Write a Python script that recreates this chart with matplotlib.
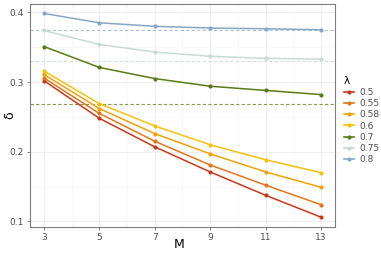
import matplotlib.pyplot as plt
from matplotlib.lines import Line2D

# Data
M = [3, 5, 7, 9, 11, 13]
lambdas = ["0.5", "0.55", "0.58", "0.6", "0.7", "0.75", "0.8"]
delta = {
    "0.5":  [0.302, 0.248, 0.207, 0.171, 0.1375, 0.106],
    "0.55": [0.306, 0.255, 0.215, 0.181, 0.152, 0.124],
    "0.58": [0.311, 0.262, 0.226, 0.197, 0.171, 0.149],
    "0.6":  [0.316, 0.269, 0.237, 0.210, 0.1885, 0.170],
    "0.7":  [0.351, 0.321, 0.305, 0.294, 0.288, 0.282],
    "0.75": [0.374, 0.354, 0.343, 0.337, 0.334, 0.333],
    "0.8":  [0.3985, 0.385, 0.380, 0.3775, 0.3765, 0.375],
}
# horizontal reference levels
hlines = {"0.7": 0.269, "0.75": 0.330, "0.8": 0.3745}

colors = {
    "0.5": "#C8381B",
    "0.55": "#E2761C",
    "0.58": "#F0A10C",
    "0.6": "#F4C20D",
    "0.7": "#5B7B18",
    "0.75": "#C9DBD4",
    "0.8": "#88A7C3",
}
hcolors = {"0.7": "#8A9A4A", "0.75": "#D4E0DC", "0.8": "#A9C2D8"}

fig = plt.figure(figsize=(3.81, 2.54), dpi=100)
ax = fig.add_axes([30 / 381, 1 - 227 / 254, 305 / 381, 223 / 254])

for lam, y in hlines.items():
    ax.axhline(y, color=hcolors[lam], linestyle=(0, (3, 2)), linewidth=0.8, zorder=1)

for lam in lambdas:
    ax.plot(M, delta[lam], color=colors[lam], linewidth=1.1, marker="o",
            markersize=2, zorder=3)

ax.set_xlim(2.5, 13.5)
ax.set_ylim(0.092, 0.412)
ax.set_xticks(M)
ax.set_yticks([0.1, 0.2, 0.3, 0.4])
ax.set_xticks([4, 6, 8, 10, 12], minor=True)
ax.set_yticks([0.15, 0.25, 0.35], minor=True)
ax.grid(True, which="major", color="#EBEBEB", linewidth=0.6)
ax.grid(True, which="minor", color="#F4F4F4", linewidth=0.4)
ax.set_axisbelow(True)
ax.tick_params(which="major", labelsize=6.5, labelcolor="#4D4D4D", color="#4D4D4D",
               length=2.5, width=0.5, pad=2)
ax.tick_params(which="minor", length=0)
for s in ax.spines.values():
    s.set_color("#7F7F7F")
    s.set_linewidth(0.8)

ax.set_xlabel("M", fontsize=9, va="center")
ax.set_ylabel("δ", fontsize=9, va="center")
ax.xaxis.set_label_coords(0.49, -17 / 223)
ax.yaxis.set_label_coords(-20 / 305, 0.5)

handles = [Line2D([0], [0], color=colors[l], marker="o", markersize=2, linewidth=1.2)
           for l in lambdas]
leg = fig.legend(handles, lambdas, title="λ", loc="upper left",
                 bbox_to_anchor=(340 / 381, 1 - 72 / 254), frameon=False,
                 fontsize=6.5, title_fontsize=7.5, handlelength=1.2,
                 handletextpad=0.5, labelspacing=0.25, borderaxespad=0)
leg._legend_box.align = "left"
for t in leg.get_texts():
    t.set_color("#4D4D4D")

fig.savefig("out.png", dpi=100)
